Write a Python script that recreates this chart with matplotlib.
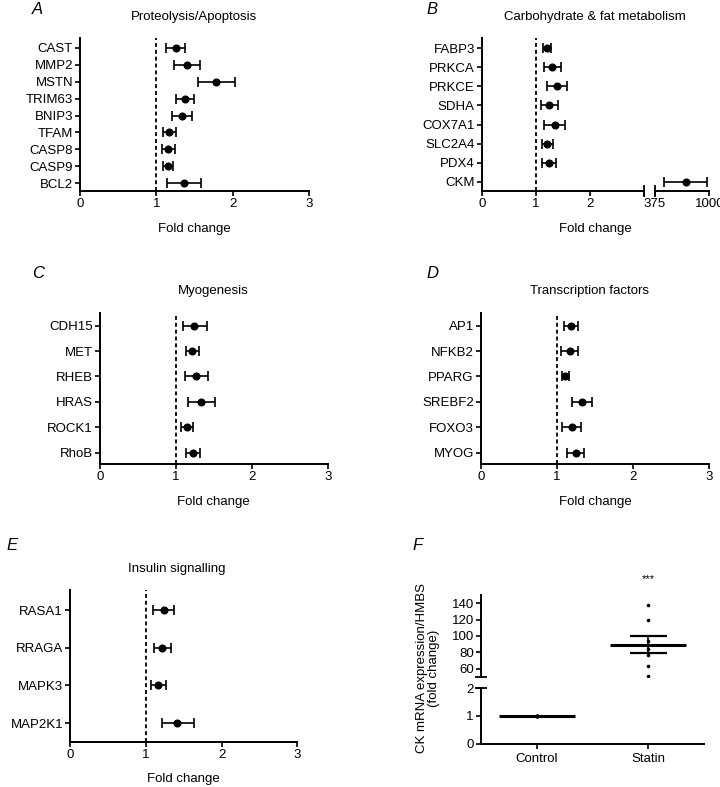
import numpy as np
import matplotlib
matplotlib.use("Agg")
import matplotlib.pyplot as plt

plt.rcParams['font.family'] = ['Liberation Sans', 'DejaVu Sans']
plt.rcParams['font.size'] = 9.5

# ---------------- data ----------------
genes_a = ["CAST", "MMP2", "MSTN", "TRIM63", "BNIP3", "TFAM", "CASP8", "CASP9", "BCL2"]
mean_a = [1.25, 1.40, 1.78, 1.37, 1.33, 1.17, 1.155, 1.15, 1.36]
low_a = [1.12, 1.23, 1.54, 1.26, 1.21, 1.08, 1.07, 1.08, 1.14]
high_a = [1.37, 1.57, 2.03, 1.49, 1.46, 1.26, 1.24, 1.22, 1.58]

genes_b = ["FABP3", "PRKCA", "PRKCE", "SDHA", "COX7A1", "SLC2A4", "PDX4", "CKM"]
mean_b = [1.21, 1.31, 1.39, 1.25, 1.36, 1.21, 1.245, 732]
low_b = [1.13, 1.15, 1.20, 1.10, 1.16, 1.11, 1.12, 482]
high_b = [1.29, 1.46, 1.58, 1.41, 1.54, 1.325, 1.375, 977]

genes_c = ["CDH15", "MET", "RHEB", "HRAS", "ROCK1", "RhoB"]
mean_c = [1.24, 1.21, 1.265, 1.33, 1.147, 1.217]
low_c = [1.09, 1.13, 1.117, 1.16, 1.06, 1.125]
high_c = [1.40, 1.305, 1.42, 1.51, 1.217, 1.314]

genes_d = ["AP1", "NFKB2", "PPARG", "SREBF2", "FOXO3", "MYOG"]
mean_d = [1.184, 1.171, 1.114, 1.333, 1.197, 1.25]
low_d = [1.096, 1.057, 1.066, 1.197, 1.074, 1.14]
high_d = [1.276, 1.285, 1.162, 1.464, 1.32, 1.36]

genes_e = ["RASA1", "RRAGA", "MAPK3", "MAP2K1"]
mean_e = [1.236, 1.21, 1.165, 1.416]
low_e = [1.09, 1.104, 1.069, 1.21]
high_e = [1.372, 1.328, 1.262, 1.636]

groups_f = ["Control", "Statin"]
control_f = [1, 1, 1, 1, 1, 1, 1, 1]
statin_f = [138, 119.5, 94, 89, 84.5, 77, 64, 51]

# ---------------- layout helpers ----------------
W, H = 720, 787
fig = plt.figure(figsize=(W / 100, H / 100), dpi=100)


def rect(l, r, t, b):
    return [l / W, 1 - b / H, (r - l) / W, (b - t) / H]


def ftext(x, y, s, **kw):
    fig.text(x / W, 1 - y / H, s, ha=kw.pop('ha', 'center'), va=kw.pop('va', 'center'), **kw)


LW = 1.4


def style(ax, left=True):
    for s in ['top', 'right']:
        ax.spines[s].set_visible(False)
    ax.spines['left'].set_visible(left)
    ax.spines['left'].set_linewidth(LW)
    ax.spines['bottom'].set_linewidth(LW)
    ax.tick_params(axis='both', length=3.5, width=1.2, pad=1.5, labelsize=9.5, color='black')
    ax.patch.set_alpha(0)


def forest(ax, genes, mean, low, high, top_pad, bot_pad, xmax=3, n_draw=None):
    n = len(genes)
    m = n if n_draw is None else n_draw
    y = np.arange(n)
    mn = np.array(mean[:m], float)
    lo = np.array(low[:m], float)
    hi = np.array(high[:m], float)
    ax.errorbar(mn, y[:m], xerr=[mn - lo, hi - mn], fmt='o', color='black', ms=4.8,
                capsize=3.6, elinewidth=1.2, capthick=1.2)
    ax.axvline(1, color='black', lw=1.3, ls=(0, (2.2, 1.6)))
    ax.set_yticks(y, genes)
    ax.set_ylim(n - 1 + bot_pad, -top_pad)
    ax.set_xlim(0, xmax)
    ax.set_xticks([0, 1, 2, 3])
    style(ax)


# Panel A
axA = fig.add_axes(rect(80, 309.3, 38, 191))
forest(axA, genes_a, mean_a, low_a, high_a, 0.59, 0.47)
ftext(194, 17, "Proteolysis/Apoptosis")
ftext(194, 229, "Fold change")
ftext(37, 9, "A", style='italic', fontsize=12)

# Panel B (broken x axis)
axB = fig.add_axes(rect(481.7, 643.7, 38, 191))
forest(axB, genes_b, mean_b, low_b, high_b, 0.54, 0.49, n_draw=7)
axB.set_xticks([0, 1, 2, 3], ["0", "1", "2", ""])
axB.plot([3], [0], transform=axB.get_xaxis_transform(), marker='|', ms=9, mew=1.3,
         color='black', clip_on=False)
axB2 = fig.add_axes(rect(655, 709.3, 38, 191), sharey=axB)
yb = np.arange(len(genes_b))
axB2.errorbar([mean_b[7]], [yb[7]], xerr=[[mean_b[7] - low_b[7]], [high_b[7] - mean_b[7]]],
              fmt='o', color='black', ms=4.8, capsize=3.6, elinewidth=1.2, capthick=1.2)
axB2.set_xlim(375, 1000)
axB2.set_xticks([375, 1000], ["375", "1000"])
style(axB2, left=False)
axB2.tick_params(axis='y', left=False, labelleft=False)
axB2.plot([375], [0], transform=axB2.get_xaxis_transform(), marker='|', ms=9, mew=1.3,
          color='black', clip_on=False)
ftext(595, 17, "Carbohydrate & fat metabolism")
ftext(595, 229, "Fold change")
ftext(432, 9, "B", style='italic', fontsize=12)

# Panel C
axC = fig.add_axes(rect(100, 328.3, 312.7, 464.3))
forest(axC, genes_c, mean_c, low_c, high_c, 0.51, 0.46)
ftext(213, 290.7, "Myogenesis")
ftext(213, 502, "Fold change")
ftext(38, 273, "C", style='italic', fontsize=12)

# Panel D
axD = fig.add_axes(rect(480.7, 708.7, 312.7, 464.3))
forest(axD, genes_d, mean_d, low_d, high_d, 0.51, 0.46)
ftext(590, 290.7, "Transcription factors")
ftext(595, 502, "Fold change")
ftext(432, 273, "D", style='italic', fontsize=12)

# Panel E
axE = fig.add_axes(rect(70, 297.3, 590, 741.7))
forest(axE, genes_e, mean_e, low_e, high_e, 0.53, 0.49)
ftext(177, 569.3, "Insulin signalling")
ftext(183, 779.3, "Fold change")
ftext(12, 546, "E", style='italic', fontsize=12)

# Panel F (broken y axis)
axF_lo = fig.add_axes(rect(480.7, 704.3, 688.3, 743.7))
axF_hi = fig.add_axes(rect(480.7, 704.3, 595, 677), sharex=axF_lo)
xpos = np.arange(len(groups_f))
for ax in (axF_lo, axF_hi):
    for i, vals in enumerate([control_f, statin_f]):
        v = np.array(vals, float)
        m = v.mean()
        sem = v.std(ddof=1) / np.sqrt(len(v))
        ax.plot(np.full(len(v), xpos[i]), v, 'o', color='black', ms=2.6, mew=0)
        ax.plot([xpos[i] - 0.34, xpos[i] + 0.34], [m, m], color='black', lw=2.2,
                solid_capstyle='butt')
        if sem > 0:
            ax.errorbar([xpos[i]], [m], yerr=[sem], fmt='none', ecolor='black',
                        elinewidth=1.2, capsize=0)
            ax.plot([xpos[i] - 0.165, xpos[i] + 0.165], [m + sem, m + sem], color='black',
                    lw=1.6, solid_capstyle='butt')
            ax.plot([xpos[i] - 0.165, xpos[i] + 0.165], [m - sem, m - sem], color='black',
                    lw=1.6, solid_capstyle='butt')
axF_lo.set_xlim(-0.5, 1.5)
axF_lo.set_ylim(0, 2)
axF_lo.set_yticks([0, 1, 2])
axF_lo.set_xticks(xpos, groups_f)
style(axF_lo)
axF_lo.tick_params(axis='x', pad=3)
axF_hi.set_ylim(50, 150)
axF_hi.set_yticks([60, 80, 100, 120, 140])
style(axF_hi)
axF_hi.spines['bottom'].set_visible(False)
axF_hi.tick_params(axis='x', bottom=False, labelbottom=False)
axF_hi.plot([0], [50], transform=axF_hi.get_yaxis_transform(), marker='_', ms=8, mew=1.3,
            color='black', clip_on=False)
axF_lo.plot([0], [2], transform=axF_lo.get_yaxis_transform(), marker='_', ms=8, mew=1.3,
            color='black', clip_on=False)
ftext(648, 579, "***", fontsize=8)
ftext(428, 668, "CK mRNA expression/HMBS\n(fold change)", rotation=90,
      multialignment='center', linespacing=1.1)
ftext(418, 546, "F", style='italic', fontsize=12)

fig.savefig("out.png", dpi=100)
